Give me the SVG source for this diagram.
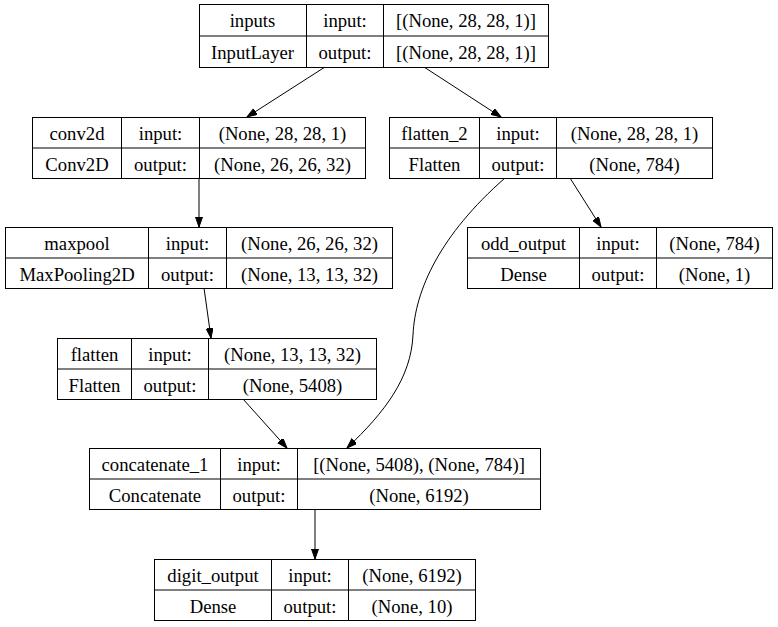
<svg xmlns="http://www.w3.org/2000/svg" width="778" height="627" viewBox="0 0 778 627">
<style>
  .box { fill: #ffffff; stroke: #000000; stroke-width: 1; }
  .ln { fill: none; stroke: #000000; stroke-width: 1; }
  .edge { fill: none; stroke: #000000; stroke-width: 1; marker-end: url(#ah); }
  text { font-family: "Liberation Serif", serif !important; }
</style>
<defs>
  <marker id="ah" markerUnits="userSpaceOnUse" markerWidth="11" markerHeight="8" refX="10" refY="3.5" orient="auto">
    <path d="M0,0 L10,3.5 L0,7 z" fill="#000000" stroke="#000000" stroke-width="1"/>
  </marker>
</defs>
<rect width="778" height="627" fill="#ffffff"/>

<g id="connectors">
  <path class="edge" d="M325,67 L247,117"/>
  <path class="edge" d="M424,67 L501,117"/>
  <path class="edge" d="M199,178 L199,227"/>
  <path class="edge" d="M204,288 L211,338"/>
  <path class="edge" d="M570,178 L601,227"/>
  <path class="edge" d="M243,399 L287,448"/>
  <path class="edge" d="M505,178 C440,235 415,290 413,335 C411,378 385,412 347,448"/>
  <path class="edge" d="M315,509 L315,559"/>
</g>

<g id="inputs" text-anchor="middle">
  <rect class="box" x="199.5" y="4.5" width="349" height="63"/>
  <path class="ln" d="M199.5,36 H548.5 M306.5,4.5 V67.5 M383.5,4.5 V67.5"/>
  <text style="font-family:'Liberation Serif',serif !important;font-size:18.7px" x="252.5" y="27">inputs</text>
  <text style="font-family:'Liberation Serif',serif !important;font-size:18.7px" x="345" y="27">input:</text>
  <text style="font-family:'Liberation Serif',serif !important;font-size:18.7px" x="466" y="27">[(None, 28, 28, 1)]</text>
  <text style="font-family:'Liberation Serif',serif !important;font-size:18.7px" x="252.5" y="58.5">InputLayer</text>
  <text style="font-family:'Liberation Serif',serif !important;font-size:18.7px" x="345" y="58.5">output:</text>
  <text style="font-family:'Liberation Serif',serif !important;font-size:18.7px" x="466" y="58.5">[(None, 28, 28, 1)]</text>
</g>

<g id="conv2d" text-anchor="middle">
  <rect class="box" x="32.5" y="117.5" width="333" height="61"/>
  <path class="ln" d="M32.5,148 H365.5 M121.5,117.5 V178.5 M199.5,117.5 V178.5"/>
  <text style="font-family:'Liberation Serif',serif !important;font-size:18.7px" x="77" y="139.5">conv2d</text>
  <text style="font-family:'Liberation Serif',serif !important;font-size:18.7px" x="160.5" y="139.5">input:</text>
  <text style="font-family:'Liberation Serif',serif !important;font-size:18.7px" x="282.5" y="139.5">(None, 28, 28, 1)</text>
  <text style="font-family:'Liberation Serif',serif !important;font-size:18.7px" x="77" y="170.5">Conv2D</text>
  <text style="font-family:'Liberation Serif',serif !important;font-size:18.7px" x="160.5" y="170.5">output:</text>
  <text style="font-family:'Liberation Serif',serif !important;font-size:18.7px" x="282.5" y="170.5">(None, 26, 26, 32)</text>
</g>

<g id="flatten_2" text-anchor="middle">
  <rect class="box" x="389.5" y="117.5" width="323" height="61"/>
  <path class="ln" d="M389.5,148 H712.5 M479.5,117.5 V178.5 M556.5,117.5 V178.5"/>
  <text style="font-family:'Liberation Serif',serif !important;font-size:18.7px" x="434.5" y="139.5">flatten_2</text>
  <text style="font-family:'Liberation Serif',serif !important;font-size:18.7px" x="518" y="139.5">input:</text>
  <text style="font-family:'Liberation Serif',serif !important;font-size:18.7px" x="634.5" y="139.5">(None, 28, 28, 1)</text>
  <text style="font-family:'Liberation Serif',serif !important;font-size:18.7px" x="434.5" y="170.5">Flatten</text>
  <text style="font-family:'Liberation Serif',serif !important;font-size:18.7px" x="518" y="170.5">output:</text>
  <text style="font-family:'Liberation Serif',serif !important;font-size:18.7px" x="634.5" y="170.5">(None, 784)</text>
</g>

<g id="maxpool" text-anchor="middle">
  <rect class="box" x="5.5" y="227.5" width="387" height="61"/>
  <path class="ln" d="M5.5,258 H392.5 M148.5,227.5 V288.5 M226.5,227.5 V288.5"/>
  <text style="font-family:'Liberation Serif',serif !important;font-size:18.7px" x="77" y="249.5">maxpool</text>
  <text style="font-family:'Liberation Serif',serif !important;font-size:18.7px" x="187.5" y="249.5">input:</text>
  <text style="font-family:'Liberation Serif',serif !important;font-size:18.7px" x="309.5" y="249.5">(None, 26, 26, 32)</text>
  <text style="font-family:'Liberation Serif',serif !important;font-size:18.7px" x="77" y="280.5">MaxPooling2D</text>
  <text style="font-family:'Liberation Serif',serif !important;font-size:18.7px" x="187.5" y="280.5">output:</text>
  <text style="font-family:'Liberation Serif',serif !important;font-size:18.7px" x="309.5" y="280.5">(None, 13, 13, 32)</text>
</g>

<g id="odd_output" text-anchor="middle">
  <rect class="box" x="467.5" y="227.5" width="305" height="61"/>
  <path class="ln" d="M467.5,258 H772.5 M579.5,227.5 V288.5 M656.5,227.5 V288.5"/>
  <text style="font-family:'Liberation Serif',serif !important;font-size:18.7px" x="523.5" y="249.5">odd_output</text>
  <text style="font-family:'Liberation Serif',serif !important;font-size:18.7px" x="618" y="249.5">input:</text>
  <text style="font-family:'Liberation Serif',serif !important;font-size:18.7px" x="714.5" y="249.5">(None, 784)</text>
  <text style="font-family:'Liberation Serif',serif !important;font-size:18.7px" x="523.5" y="280.5">Dense</text>
  <text style="font-family:'Liberation Serif',serif !important;font-size:18.7px" x="618" y="280.5">output:</text>
  <text style="font-family:'Liberation Serif',serif !important;font-size:18.7px" x="714.5" y="280.5">(None, 1)</text>
</g>

<g id="flatten" text-anchor="middle">
  <rect class="box" x="57.5" y="338.5" width="319" height="61"/>
  <path class="ln" d="M57.5,369 H376.5 M131.5,338.5 V399.5 M208.5,338.5 V399.5"/>
  <text style="font-family:'Liberation Serif',serif !important;font-size:18.7px" x="94.5" y="360.5">flatten</text>
  <text style="font-family:'Liberation Serif',serif !important;font-size:18.7px" x="170" y="360.5">input:</text>
  <text style="font-family:'Liberation Serif',serif !important;font-size:18.7px" x="292.5" y="360.5">(None, 13, 13, 32)</text>
  <text style="font-family:'Liberation Serif',serif !important;font-size:18.7px" x="94.5" y="391.5">Flatten</text>
  <text style="font-family:'Liberation Serif',serif !important;font-size:18.7px" x="170" y="391.5">output:</text>
  <text style="font-family:'Liberation Serif',serif !important;font-size:18.7px" x="292.5" y="391.5">(None, 5408)</text>
</g>

<g id="concatenate_1" text-anchor="middle">
  <rect class="box" x="89.5" y="448.5" width="451" height="61"/>
  <path class="ln" d="M89.5,479 H540.5 M220.5,448.5 V509.5 M297.5,448.5 V509.5"/>
  <text style="font-family:'Liberation Serif',serif !important;font-size:18.7px" x="155" y="470.5">concatenate_1</text>
  <text style="font-family:'Liberation Serif',serif !important;font-size:18.7px" x="259" y="470.5">input:</text>
  <text style="font-family:'Liberation Serif',serif !important;font-size:18.7px" x="419" y="470.5">[(None, 5408), (None, 784)]</text>
  <text style="font-family:'Liberation Serif',serif !important;font-size:18.7px" x="155" y="501.5">Concatenate</text>
  <text style="font-family:'Liberation Serif',serif !important;font-size:18.7px" x="259" y="501.5">output:</text>
  <text style="font-family:'Liberation Serif',serif !important;font-size:18.7px" x="419" y="501.5">(None, 6192)</text>
</g>

<g id="digit_output" text-anchor="middle">
  <rect class="box" x="154.5" y="559.5" width="321" height="61"/>
  <path class="ln" d="M154.5,590 H475.5 M271.5,559.5 V620.5 M348.5,559.5 V620.5"/>
  <text style="font-family:'Liberation Serif',serif !important;font-size:18.7px" x="213" y="581.5">digit_output</text>
  <text style="font-family:'Liberation Serif',serif !important;font-size:18.7px" x="310" y="581.5">input:</text>
  <text style="font-family:'Liberation Serif',serif !important;font-size:18.7px" x="412" y="581.5">(None, 6192)</text>
  <text style="font-family:'Liberation Serif',serif !important;font-size:18.7px" x="213" y="612.5">Dense</text>
  <text style="font-family:'Liberation Serif',serif !important;font-size:18.7px" x="310" y="612.5">output:</text>
  <text style="font-family:'Liberation Serif',serif !important;font-size:18.7px" x="412" y="612.5">(None, 10)</text>
</g>
</svg>
